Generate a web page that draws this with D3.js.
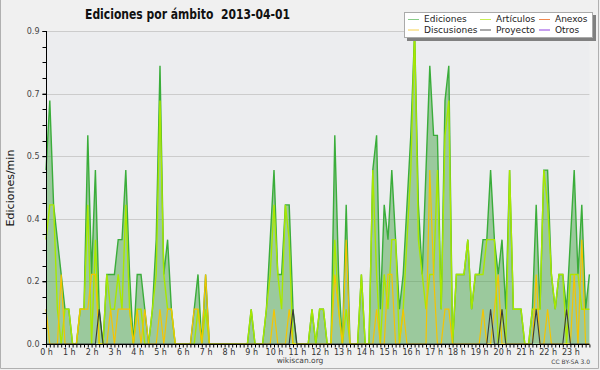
<!DOCTYPE html>
<html>
<head>
<meta charset="utf-8">
<title>Ediciones por ámbito</title>
<script src="https://cdnjs.cloudflare.com/ajax/libs/d3/7.8.5/d3.min.js"></script>
<style>
  body { margin: 0; background: #f0f0f0; }
  svg { display: block; font-family: "DejaVu Sans", sans-serif; }
</style>
</head>
<body>
<script>
// ediciones por minuto, un punto cada 10 minutos (144 puntos en el día)
var ediciones = [
  0.5,0.7,0.4,0.3,0.2,0.1,0.1,0,0,0.1,0.1,0.6,0.2,0.5,0.1,0,0.2,0.2,0.2,0.3,0.3,0.5,0.2,0,0.2,0.2,0.1,0,0.1,0.3,0.8,0.2,0.3,0.1,0,0,
  0,0,0,0.1,0.2,0,0.2,0,0,0,0,0,0,0,0,0,0,0,0.1,0,0,0,0.1,0.3,0.5,0.2,0.2,0.4,0.4,0.1,0,0,0,0,0.1,0,
  0.1,0.1,0,0,0.6,0.2,0,0.4,0,0,0,0.2,0,0,0.5,0.6,0.1,0.4,0.3,0.5,0.3,0.1,0.2,0.4,0.6,0.9,0.4,0.2,0.5,0.8,0.6,0.6,0.1,0.7,0.8,0,
  0.2,0.2,0.2,0.3,0.1,0.2,0.2,0.3,0.3,0.5,0.3,0.2,0.3,0.1,0.5,0.1,0.1,0.1,0,0,0.1,0.4,0.1,0.5,0.5,0.2,0.1,0.2,0.2,0.1,0.3,0.5,0.2,0.4,0.1,0.2
];
var articulos = [
  0.3,0.4,0.4,0.1,0,0.1,0.1,0,0,0.1,0.1,0.4,0,0.3,0,0,0.2,0.1,0.1,0.2,0.1,0.4,0.1,0,0.1,0.1,0,0,0.1,0.2,0.7,0.2,0.1,0.1,0,0,
  0,0,0,0,0.1,0,0.1,0,0,0,0,0,0,0,0,0,0,0,0.1,0,0,0,0.1,0.2,0.4,0.2,0.1,0.4,0.3,0,0,0,0,0,0.1,0,
  0.1,0.1,0,0,0.3,0.1,0,0.1,0,0,0,0.2,0,0,0.5,0.2,0,0.2,0.1,0.3,0.3,0,0.1,0.3,0.5,0.9,0.3,0.2,0.1,0.2,0.2,0.5,0.1,0.6,0.7,0,
  0.2,0.2,0.2,0.3,0.1,0.2,0.2,0.2,0.3,0.3,0.3,0,0.1,0,0.5,0.1,0.1,0.1,0,0,0.1,0.1,0.1,0.5,0.4,0.2,0.1,0.2,0.2,0,0.2,0.2,0.2,0.1,0.1,0.1
];
var discusiones = [
  0.1,0,0,0,0.2,0,0,0,0,0.1,0.1,0.1,0.2,0.2,0,0,0,0.1,0,0.1,0.1,0.1,0.1,0,0.1,0,0.1,0,0,0,0.1,0,0.1,0.1,0,0,
  0,0,0,0.1,0.1,0,0.2,0,0,0,0,0,0,0,0,0,0,0,0,0,0,0,0,0,0.1,0,0,0,0.1,0,0,0,0,0,0,0,
  0,0,0,0,0.2,0.1,0,0.3,0,0,0,0,0,0,0,0.1,0,0,0.2,0.2,0,0,0.1,0,0,0,0,0,0,0.5,0.2,0,0,0.1,0.1,0,
  0,0,0,0,0,0,0,0.1,0,0,0.1,0.2,0,0,0,0,0,0,0,0,0,0.2,0,0,0.1,0,0,0,0,0,0,0.2,0,0.3,0,0
];
var proyecto = [
  0,0,0,0,0,0,0,0,0,0,0,0,0,0,0.1,0,0,0,0,0,0,0,0,0,0,0,0,0,0,0,0,0,0,0,0,0,
  0,0,0,0,0,0,0,0,0,0,0,0,0,0,0,0,0,0,0,0,0,0,0,0,0,0,0,0,0,0.1,0,0,0,0,0,0,
  0,0,0,0,0,0,0,0,0,0,0,0,0,0,0,0,0,0,0,0,0,0,0,0,0,0,0,0,0,0,0,0,0,0,0,0,
  0,0,0,0,0,0,0,0,0,0.1,0,0,0.1,0,0,0,0,0,0,0,0,0.1,0,0,0,0,0,0,0,0.1,0,0,0,0,0,0
];
var horas = ["0 h","1 h","2 h","3 h","4 h","5 h","6 h","7 h","8 h","9 h","10 h","11 h",
             "12 h","13 h","14 h","15 h","16 h","17 h","18 h","19 h","20 h","21 h","22 h","23 h"];
var yTicks = [0, 0.18, 0.36, 0.54, 0.72, 0.9];
var leyenda = [
  {nombre: "Ediciones",   color: "#88cc88"},
  {nombre: "Artículos",   color: "#c8ee55"},
  {nombre: "Anexos",      color: "#f08850"},
  {nombre: "Discusiones", color: "#f5d050"},
  {nombre: "Proyecto",    color: "#555555"},
  {nombre: "Otros",       color: "#9040e0"}
];

var width = 600, height = 370;
var margenIzq = 46, margenDer = 589.4, margenSup = 31, margenInf = 344;

var svg = d3.select("body").append("svg")
    .attr("width", width)
    .attr("height", height);

svg.append("rect").attr("width", width).attr("height", height).attr("fill", "#f0f0f0");
svg.append("rect")
    .attr("x", margenIzq).attr("y", margenSup)
    .attr("width", margenDer - margenIzq).attr("height", margenInf - margenSup)
    .attr("fill", "#ecedef");
// marco
svg.append("path")
    .attr("d", "M0.5,0 V368.5 H598.5 V0")
    .attr("fill", "none").attr("stroke", "#b0b0b0");

var x = d3.scaleLinear().domain([0, ediciones.length - 1]).range([margenIzq, margenDer]);
var y = d3.scaleLinear().domain([0, 0.9]).range([margenInf, margenSup]);

// rejilla
svg.append("g").selectAll("line")
    .data(yTicks.slice(1))
    .enter().append("line")
    .attr("x1", margenIzq).attr("x2", margenDer)
    .attr("y1", function(d) { return Math.round(y(d)) + 0.5; })
    .attr("y2", function(d) { return Math.round(y(d)) + 0.5; })
    .attr("stroke", "#cccccc");

// area de ediciones
var area = d3.area()
    .x(function(d, i) { return x(i); })
    .y0(margenInf)
    .y1(function(d) { return y(d); });
svg.append("path")
    .datum(ediciones)
    .attr("d", area)
    .attr("fill", "#3a9e3a")
    .attr("fill-opacity", 0.45);

var linea = d3.line()
    .x(function(d, i) { return x(i); })
    .y(function(d) { return y(d); });

var series = [
  {datos: ediciones,   color: "#3aad3a", ancho: 1.4},
  {datos: articulos,   color: "#a8e800", ancho: 1.4},
  {datos: discusiones, color: "#f5c400", ancho: 1.2},
  {datos: proyecto,    color: "#3a3a3a", ancho: 1.1}
];
series.forEach(function(s) {
  svg.append("path")
      .datum(s.datos)
      .attr("d", linea)
      .attr("fill", "none")
      .attr("stroke", s.color)
      .attr("stroke-width", s.ancho)
      .attr("stroke-linejoin", "miter");
});

// eje y
var ejeY = svg.append("g")
    .attr("transform", "translate(" + (margenIzq + 0.5) + ",0)")
    .call(d3.axisLeft(y).tickValues(yTicks).tickSize(4).tickPadding(3)
        .tickFormat(d3.format(".1f")));
ejeY.selectAll(".tick text").attr("font-size", 8).attr("fill", "#444").attr("font-family", "DejaVu Sans");
ejeY.select(".domain").attr("d", "M0," + margenSup + "V" + margenInf);
ejeY.append("g").selectAll("line")
    .data(d3.range(0, 0.9001, 0.045))
    .enter().append("line")
    .attr("x1", -4).attr("x2", 0)
    .attr("y1", function(d) { return Math.round(y(d)) + 0.5; })
    .attr("y2", function(d) { return Math.round(y(d)) + 0.5; })
    .attr("stroke", "#000");

// eje x
var ejeX = svg.append("g")
    .attr("transform", "translate(0," + (margenInf + 0.5) + ")")
    .call(d3.axisBottom(x).tickValues(d3.range(0, ediciones.length)).tickSize(3).tickPadding(1.5)
        .tickFormat(function(d) { return d % 6 === 0 ? horas[d / 6] : ""; }));
ejeX.selectAll(".tick text").attr("font-size", 8).attr("fill", "#333").attr("font-family", "DejaVu Sans");
ejeX.select(".domain").attr("d", "M" + margenIzq + ",0H" + margenDer).attr("stroke-width", 1.2);
ejeX.selectAll(".tick line").attr("stroke-width", 1);

// titulo
svg.append("text")
    .attr("x", 85).attr("y", 19)
    .attr("textLength", 205).attr("lengthAdjust", "spacingAndGlyphs")
    .style("white-space", "pre")
    .attr("font-size", 13.5).attr("font-weight", "bold").attr("fill", "#111")
    .text("Ediciones por ámbito  2013-04-01");

svg.append("text")
    .attr("transform", "translate(13.5,188) rotate(-90)")
    .attr("text-anchor", "middle")
    .attr("font-size", 11).attr("fill", "#111")
    .text("Ediciones/min");

svg.append("text")
    .attr("x", 300).attr("y", 363)
    .attr("text-anchor", "middle")
    .attr("font-size", 7.5).attr("fill", "#444")
    .text("wikiscan.org");

svg.append("text")
    .attr("x", 590).attr("y", 364)
    .attr("text-anchor", "end")
    .attr("font-size", 6).attr("fill", "#444")
    .text("CC BY-SA 3.0");

// leyenda
var ley = svg.append("g");
ley.append("rect").attr("x", 407).attr("y", 15).attr("width", 189).attr("height", 26).attr("fill", "#808080");
ley.append("rect").attr("x", 404.5).attr("y", 12.5).attr("width", 188).attr("height", 25)
    .attr("fill", "#fff").attr("stroke", "#aaa");
var colX = [408, 480, 539];
var filaY = [19, 29.5];
var items = ley.selectAll("g.item")
    .data(leyenda)
    .enter().append("g")
    .attr("class", "item")
    .attr("transform", function(d, i) {
      return "translate(" + colX[i % 3] + "," + filaY[Math.floor(i / 3)] + ")";
    });
items.append("line").attr("x1", 0).attr("x2", 11).attr("y1", 0.5).attr("y2", 0.5)
    .attr("stroke", function(d) { return d.color; }).attr("stroke-width", 1);
items.append("text").attr("x", 16).attr("y", 3.3)
    .attr("font-size", 9).attr("fill", "#222")
    .text(function(d) { return d.nombre; });
</script>
</body>
</html>
